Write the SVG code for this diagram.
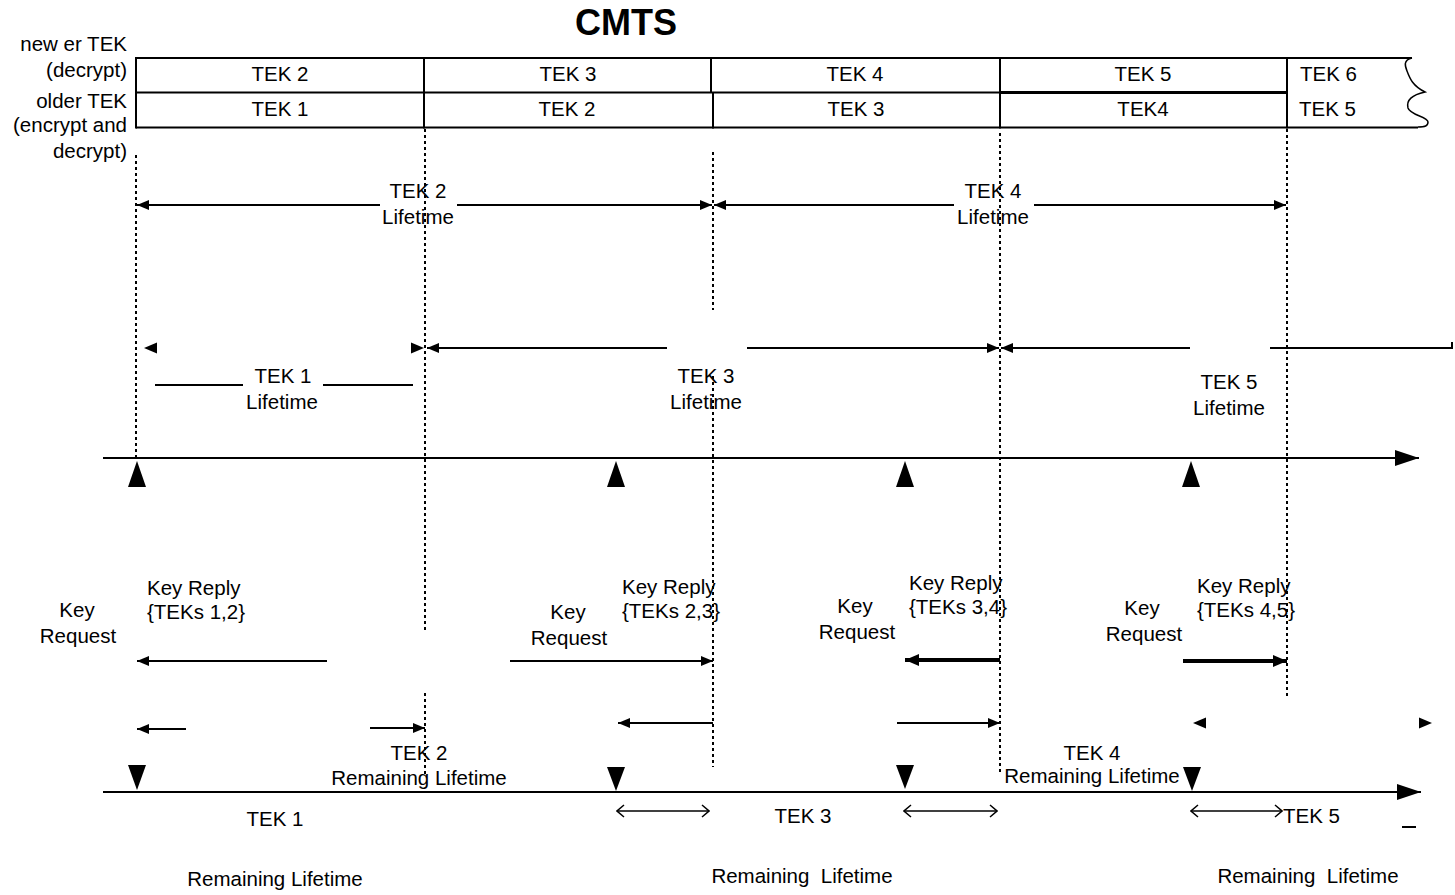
<svg xmlns="http://www.w3.org/2000/svg" width="1455" height="895" viewBox="0 0 1455 895">
<style>
text{font-family:"Liberation Sans",Arial,sans-serif;font-size:20.5px;fill:#000}
.c{text-anchor:middle}
.e{text-anchor:end}
.pre{white-space:pre}
.ln{stroke:#000;stroke-width:2;fill:none}
.thk{stroke:#000;stroke-width:4;fill:none}
.dot{stroke:#000;stroke-width:2;stroke-dasharray:3 3;fill:none}
.tbl{stroke:#000;stroke-width:2;fill:none}
.tri{fill:#000}
</style>
<defs>
<marker id="ah" viewBox="0 0 12 10" refX="12" refY="5" markerWidth="12" markerHeight="10" markerUnits="userSpaceOnUse" orient="auto-start-reverse"><path d="M0,0 L12,5 L0,10 z" fill="#000"/></marker>
<marker id="ahb" viewBox="0 0 14 12" refX="14" refY="6" markerWidth="14" markerHeight="12" markerUnits="userSpaceOnUse" orient="auto-start-reverse"><path d="M0,0 L14,6 L0,12 z" fill="#000"/></marker>
<marker id="ax" viewBox="0 0 24 16" refX="24" refY="8" markerWidth="24" markerHeight="16" markerUnits="userSpaceOnUse" orient="auto"><path d="M0,0 L24,8 L0,16 z" fill="#000"/></marker>
<marker id="op" viewBox="0 0 9 14" refX="8" refY="7" markerWidth="9" markerHeight="14" markerUnits="userSpaceOnUse" orient="auto-start-reverse"><path d="M1,1 L8,7 L1,13" fill="none" stroke="#000" stroke-width="1.5"/></marker>
</defs>

<g id="title"><text x="626" y="35" class="c" style="font-size:36px;font-weight:bold">CMTS</text></g>

<g id="row-labels">
<text x="127" y="51" class="e">new er TEK</text>
<text x="127" y="77" class="e">(decrypt)</text>
<text x="127" y="108" class="e">older TEK</text>
<text x="127" y="132" class="e">(encrypt and</text>
<text x="127" y="158" class="e">decrypt)</text>
</g>

<g id="tek-table">
<line class="tbl" x1="136" y1="58" x2="1412" y2="58"/>
<line class="tbl" x1="136" y1="92.5" x2="1000" y2="92.5"/>
<line x1="1000" y1="92.5" x2="1287" y2="92.5" stroke="#000" stroke-width="3"/>
<line class="tbl" x1="136" y1="127.5" x2="1418" y2="127.5"/>
<line class="tbl" x1="136" y1="57" x2="136" y2="128.5"/>
<line class="tbl" x1="424" y1="57" x2="424" y2="128.5"/>
<line class="tbl" x1="711" y1="57" x2="711" y2="93"/>
<line class="tbl" x1="713" y1="92" x2="713" y2="128.5"/>
<line class="tbl" x1="1000" y1="57" x2="1000" y2="128.5"/>
<line class="tbl" x1="1287" y1="57" x2="1287" y2="128.5"/>
<path class="ln" style="stroke-width:1.5" d="M1412,58 C1403,60 1405,66 1407,71 C1410,79 1413,86 1425,92 C1412,95 1406,100 1408,108 C1410,115 1428,117 1428,122 C1428,126 1425,127 1418,127"/>
<text x="280" y="81" class="c">TEK 2</text>
<text x="568" y="81" class="c">TEK 3</text>
<text x="855" y="81" class="c">TEK 4</text>
<text x="1143" y="81" class="c">TEK 5</text>
<text x="1300" y="81">TEK 6</text>
<text x="280" y="116" class="c">TEK 1</text>
<text x="567" y="116" class="c">TEK 2</text>
<text x="856" y="116" class="c">TEK 3</text>
<text x="1143" y="116" class="c">TEK4</text>
<text x="1299" y="116">TEK 5</text>
</g>

<g id="guides">
<line class="dot" x1="136" y1="155" x2="136" y2="458"/>
<line class="dot" x1="425" y1="129" x2="425" y2="632"/>
<line class="dot" x1="425" y1="693" x2="425" y2="775"/>
<line class="dot" x1="713" y1="152" x2="713" y2="310"/>
<line class="dot" x1="713" y1="376" x2="713" y2="767"/>
<line class="dot" x1="1000" y1="133" x2="1000" y2="772"/>
<line class="dot" x1="1287" y1="129" x2="1287" y2="697"/>
</g>

<g id="tek-lifetimes">
<line class="ln" x1="137" y1="205" x2="380" y2="205" marker-start="url(#ah)"/>
<line class="ln" x1="457" y1="205" x2="712" y2="205" marker-end="url(#ah)"/>
<text x="418" y="198" class="c">TEK 2</text>
<text x="418" y="224" class="c">Lifetime</text>
<line class="ln" x1="714" y1="205" x2="954" y2="205" marker-start="url(#ah)"/>
<line class="ln" x1="1034" y1="205" x2="1286" y2="205" marker-end="url(#ah)"/>
<text x="993" y="198" class="c">TEK 4</text>
<text x="993" y="224" class="c">Lifetime</text>

<path class="tri" d="M144,348 L157,342.5 L157,353.5 z"/>
<path class="tri" d="M424,348 L411,342.5 L411,353.5 z"/>
<line class="ln" x1="155" y1="385" x2="243" y2="385"/>
<line class="ln" x1="323" y1="385" x2="413" y2="385"/>
<text x="283" y="383" class="c">TEK 1</text>
<text x="282" y="409" class="c">Lifetime</text>

<line class="ln" x1="427" y1="348" x2="667" y2="348" marker-start="url(#ah)"/>
<line class="ln" x1="747" y1="348" x2="999" y2="348" marker-end="url(#ah)"/>
<text x="706" y="383" class="c">TEK 3</text>
<text x="706" y="409" class="c">Lifetime</text>

<line class="ln" x1="1001" y1="348" x2="1190" y2="348" marker-start="url(#ah)"/>
<polyline class="ln" points="1270,348 1452,348 1452,342"/>
<text x="1229" y="389" class="c">TEK 5</text>
<text x="1229" y="415" class="c">Lifetime</text>
</g>

<g id="cmts-axis">
<line class="ln" x1="103" y1="458" x2="1419" y2="458" marker-end="url(#ax)"/>
<path class="tri" d="M137,461 L128,487 L146,487 z"/>
<path class="tri" d="M616,461 L607,487 L625,487 z"/>
<path class="tri" d="M905,461 L896,487 L914,487 z"/>
<path class="tri" d="M1191,461 L1182,487 L1200,487 z"/>
</g>

<g id="key-exchange">
<text x="77" y="617" class="c">Key</text>
<text x="78" y="643" class="c">Request</text>
<text x="147" y="595">Key Reply</text>
<text x="147" y="619">{TEKs 1,2}</text>
<line class="ln" x1="327" y1="661" x2="137" y2="661" marker-end="url(#ah)"/>

<text x="568" y="619" class="c">Key</text>
<text x="569" y="645" class="c">Request</text>
<text x="622" y="594">Key Reply</text>
<text x="622" y="618">{TEKs 2,3}</text>
<line class="ln" x1="510" y1="661" x2="713" y2="661" marker-end="url(#ah)"/>

<text x="855" y="613" class="c">Key</text>
<text x="857" y="639" class="c">Request</text>
<text x="909" y="590">Key Reply</text>
<text x="909" y="614">{TEKs 3,4}</text>
<line class="thk" x1="1000" y1="660" x2="905" y2="660" marker-end="url(#ahb)"/>

<text x="1142" y="615" class="c">Key</text>
<text x="1144" y="641" class="c">Request</text>
<text x="1197" y="593">Key Reply</text>
<text x="1197" y="617">{TEKs 4,5}</text>
<line class="thk" x1="1183" y1="661" x2="1287" y2="661" marker-end="url(#ahb)"/>
</g>

<g id="remaining-lifetimes">
<line class="ln" x1="186" y1="729" x2="137" y2="729" marker-end="url(#ah)"/>
<line class="ln" x1="370" y1="728" x2="425" y2="728" marker-end="url(#ah)"/>
<text x="419" y="760" class="c">TEK 2</text>
<text x="419" y="785" class="c">Remaining Lifetime</text>
<line class="ln" x1="713" y1="723" x2="618" y2="723" marker-end="url(#ah)"/>
<line class="ln" x1="897" y1="723" x2="1000" y2="723" marker-end="url(#ah)"/>
<text x="1092" y="760" class="c">TEK 4</text>
<text x="1092" y="783" class="c">Remaining Lifetime</text>
<path class="tri" d="M1193,723 L1206,717.5 L1206,728.5 z"/>
<path class="tri" d="M1432,723 L1419,717.5 L1419,728.5 z"/>
</g>

<g id="cm-axis">
<line class="ln" x1="103" y1="792" x2="1421" y2="792" marker-end="url(#ax)"/>
<path class="tri" d="M128,765 L146,765 L137,790 z"/>
<path class="tri" d="M607,767 L625,767 L616,791 z"/>
<path class="tri" d="M896,765 L914,765 L905,789 z"/>
<path class="tri" d="M1183,767 L1201,767 L1192,791 z"/>
</g>

<g id="bottom-labels">
<text x="275" y="826" class="c">TEK 1</text>
<text x="275" y="886" class="c">Remaining Lifetime</text>
<line class="ln" style="stroke-width:1.5" x1="617" y1="811" x2="709" y2="811" marker-start="url(#op)" marker-end="url(#op)"/>
<line class="ln" style="stroke-width:1.5" x1="904" y1="811" x2="997" y2="811" marker-start="url(#op)" marker-end="url(#op)"/>
<text x="803" y="823" class="c">TEK 3</text>
<text x="802" y="883" class="c pre">Remaining  Lifetime</text>
<line class="ln" style="stroke-width:1.5" x1="1191" y1="811" x2="1282" y2="811" marker-start="url(#op)" marker-end="url(#op)"/>
<text x="1283" y="823">TEK 5</text>
<line class="ln" x1="1402" y1="827" x2="1416" y2="827"/>
<text x="1308" y="883" class="c pre">Remaining  Lifetime</text>
</g>
</svg>
